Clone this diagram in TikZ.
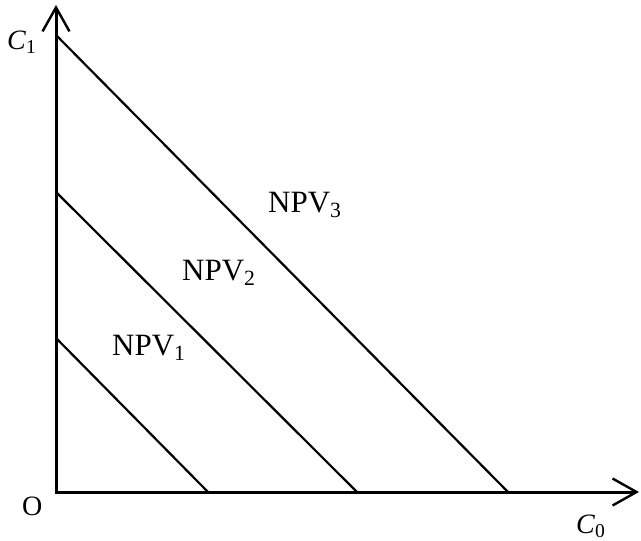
\documentclass[tikz,border=0pt]{standalone}
\usepackage{fontspec}
\setmainfont{Liberation Serif}
\usetikzlibrary{arrows.meta}

\begin{document}
\begin{tikzpicture}[x=1pt, y=-1pt,
    barb/.tip={Straight Barb[length=24pt, width=27pt, line width=2.4pt]},
    axis/.style={line width=3pt, barb-barb},
    npv/.style={line width=2.2pt},
    curvelbl/.style={anchor=base west, inner sep=0pt, font=\fontsize{31}{34}\selectfont},
    axlbl/.style={anchor=base west, inner sep=0pt, font=\fontsize{28}{30}\selectfont},
]
\useasboundingbox (0,0) rectangle (641,541);

% axes
\coordinate (O) at (56,492);
\coordinate (xtip) at (639,492);
\coordinate (ytip) at (56,5);
\draw[axis] (ytip) -- (O) -- (xtip);

\node[axlbl] (c1) at (7,49) {\textit{C}\textsubscript{1}};
\node[axlbl] (c0) at (576,533) {\textit{C}\textsubscript{0}};
\node[axlbl] (orig) at (22,515) {O};

% NPV lines
\coordinate (a1) at (56,338);
\coordinate (b1) at (208,492);
\coordinate (a2) at (56,192);
\coordinate (b2) at (357,492);
\coordinate (a3) at (56,35);
\coordinate (b3) at (508,492);
\draw[npv] (a1) -- (b1);
\draw[npv] (a2) -- (b2);
\draw[npv] (a3) -- (b3);

\node[curvelbl] (npv1) at (112,355) {NPV\textsubscript{1}};
\node[curvelbl] (npv2) at (182,280) {NPV\textsubscript{2}};
\node[curvelbl] (npv3) at (268,212) {NPV\textsubscript{3}};

\end{tikzpicture}
\end{document}
